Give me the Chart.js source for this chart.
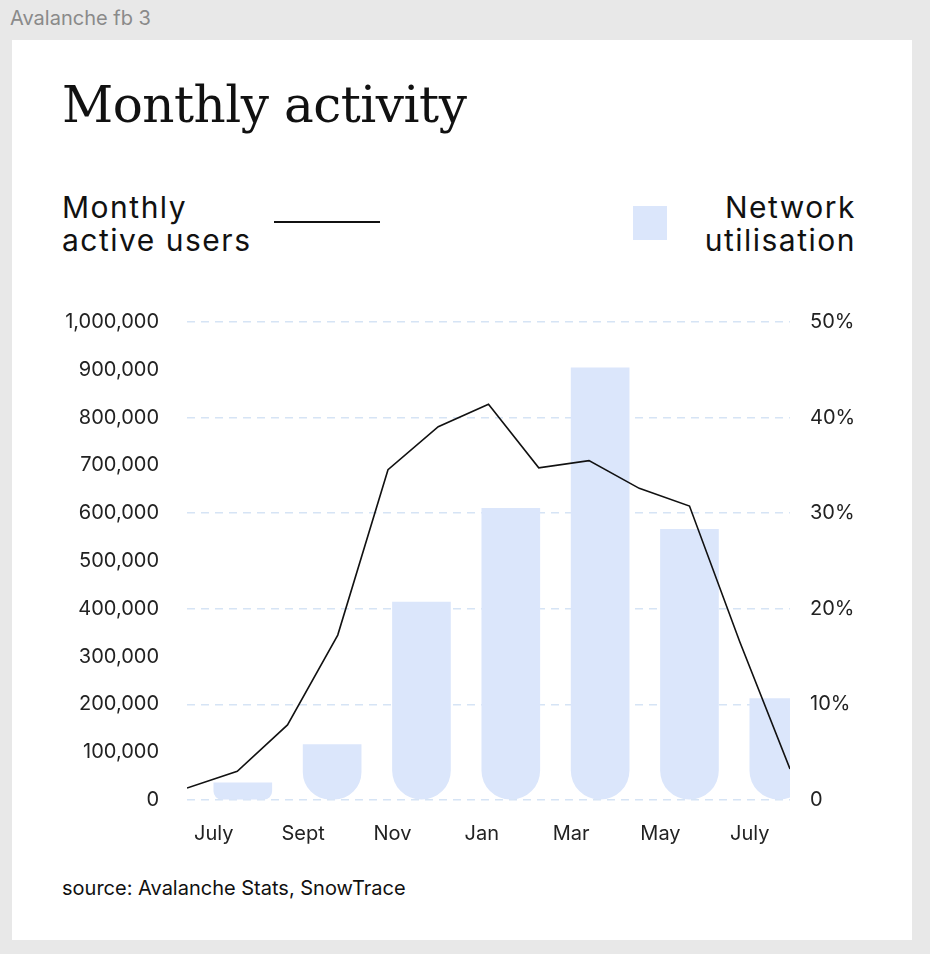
<!DOCTYPE html>
<html><head><meta charset="utf-8">
<script src="https://cdn.jsdelivr.net/npm/chart.js@4/dist/chart.umd.min.js"></script>
<style>
body{margin:0;width:930px;height:954px;background:#e8e8e8;font-family:Inter,"Noto Sans",sans-serif;position:relative;overflow:hidden}
#tag{position:absolute;left:10px;top:6px;font-size:20px;color:#8a8a8a}
#card{position:absolute;left:12px;top:40px;width:900px;height:900px;background:#fff}
#title{position:absolute;left:62px;top:76px;font-family:"DejaVu Serif","Liberation Serif",serif;font-size:50px;color:#111;letter-spacing:-0.5px}
.leg{position:absolute;font-size:30px;line-height:33px;color:#111;letter-spacing:1.5px}
#l1{left:62px;top:191px}
#l2{right:74px;top:191px;text-align:right}
#ln{position:absolute;left:274px;top:221px;width:106px;height:2px;background:#111}
#sq{position:absolute;left:633px;top:206px;width:34px;height:34px;background:#dbe6fb}
#src{position:absolute;left:62px;top:876px;font-size:20px;color:#111}
#wrap{position:absolute;left:40px;top:290px;width:840px;height:560px}
</style></head><body>
<div id="tag">Avalanche fb 3</div>
<div id="card"></div>
<div id="title">Monthly activity</div>
<div class="leg" id="l1">Monthly<br>active users</div><div id="ln"></div>
<div id="sq"></div>
<div class="leg" id="l2">Network<br>utilisation</div>
<div id="src">source: Avalanche Stats, SnowTrace</div>
<div id="wrap"><canvas id="c"></canvas></div>
<script>
const barMonths=[0,2,4,6,8,10,12];
const barLabels=["July","Sept","Nov","Jan","Mar","May","July"];
const utilisation=[1.8,5.8,20.7,30.5,45.2,28.3,10.6];
const lineMonths=[0,1,2,3,4,5,6,7,8,9,10,11,12];
const activeUsers=[25000,60000,157000,345000,691000,781000,828000,695000,710000,652000,615000,331000,65000];
const font={family:"Inter, 'Noto Sans', sans-serif",size:20};
new Chart(document.getElementById('c'),{
 data:{datasets:[
  {type:'line',data:lineMonths.map((m,i)=>({x:m,y:activeUsers[i]})),xAxisID:'xl',yAxisID:'y',borderColor:'#111',borderWidth:1.6,pointRadius:0,tension:0,order:0},
  {type:'bar',data:barMonths.map((m,i)=>({x:m,y:utilisation[i]})),xAxisID:'x',yAxisID:'y2',backgroundColor:'#dbe6fb',barThickness:58,borderSkipped:false,borderRadius:{topLeft:0,topRight:0,bottomLeft:29,bottomRight:29},order:1}
 ]},
 options:{responsive:true,maintainAspectRatio:false,animation:false,
  layout:{padding:{top:11}},
  plugins:{legend:{display:false},tooltip:{enabled:false}},
  scales:{
   x:{type:'linear',offset:false,min:-0.6,max:12.9,grid:{display:false},border:{display:false},
     afterBuildTicks:a=>{a.ticks=barMonths.map(v=>({value:v}));},
     ticks:{font,color:'#222',padding:14,autoSkip:false,maxRotation:0,callback:(v)=>barLabels[barMonths.indexOf(v)]},
     afterFit:a=>{a.height=50;}},
   xl:{type:'linear',offset:false,min:0,max:12,display:false},
   y:{position:'left',min:0,max:1000000,grid:{display:false},border:{display:false},
     ticks:{stepSize:100000,font,color:'#222',padding:20,callback:v=>v.toLocaleString('en-US')},
     afterFit:a=>{a.width=147;}},
   y2:{position:'right',min:0,max:50,border:{display:false,dash:[8,6]},
     grid:{color:'#d6e4f5',lineWidth:1.5,drawTicks:false},
     ticks:{stepSize:10,font,color:'#222',padding:20,callback:v=>v===0?'0':v+'%'},
     afterFit:a=>{a.width=90;}}
  }}
});
</script>
</body></html>
